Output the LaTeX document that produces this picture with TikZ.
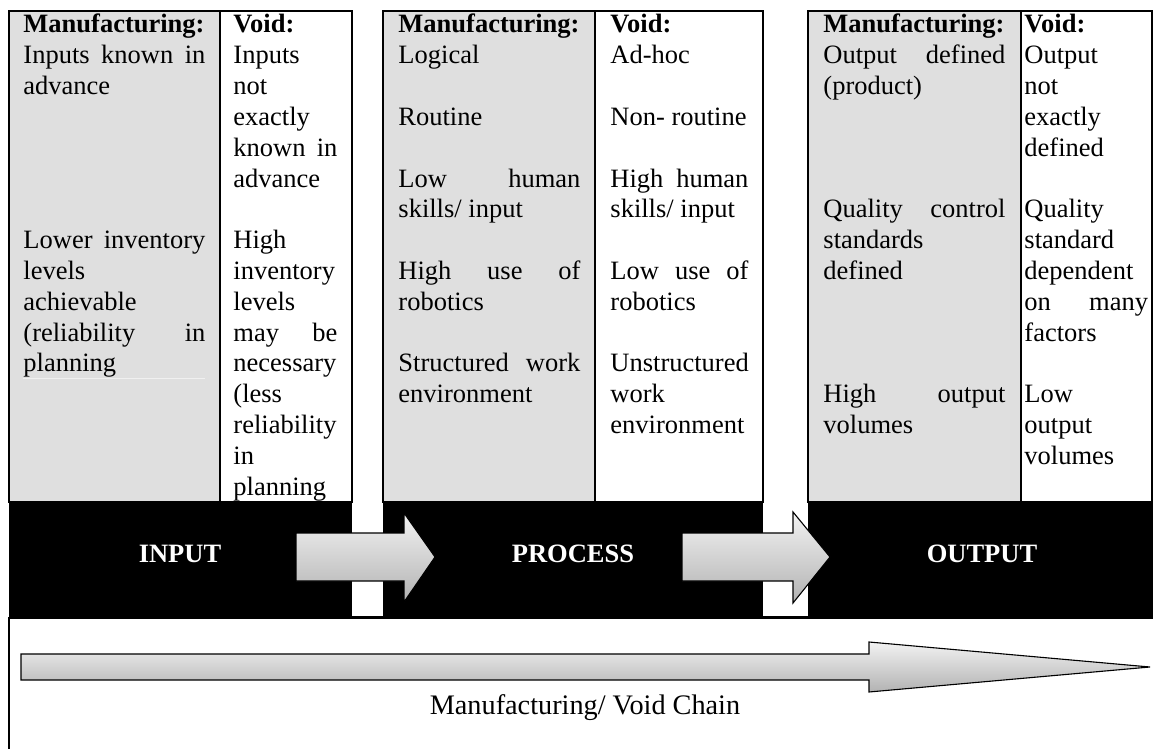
\documentclass[tikz,border=0pt]{standalone}
\usepackage{fontspec}
\setmainfont{Liberation Serif}
\usepackage{tikz}
\usetikzlibrary{positioning}

\definecolor{hellgrau}{RGB}{223,223,223}
\definecolor{strich}{RGB}{240,240,240}

\setlength{\parindent}{0pt}
\hbadness=10000
\tolerance=10000

% Leerzeilen zwischen den Absaetzen
\newcommand{\leer}[1][1]{\par\vspace{#1\baselineskip}}

\tikzset{
    spalte/.style={anchor=north west, inner sep=0pt, text width=#1, align=justify,
        font=\fontsize{12}{13.95}\selectfont},
    rahmen/.style={line width=0.9pt},
    pfeil/.style={draw=black, line width=0.5pt, top color=gray!10, bottom color=gray!60},
    titel/.style={text=white, inner sep=0pt, font=\fontsize{12}{14}\selectfont\bfseries},
}

\begin{document}
\begin{tikzpicture}[x=0.4528pt, y=-0.4528pt]
    % Bildausschnitt festlegen
    \useasboundingbox (0,0) rectangle (1153,749);
    \clip (0,0) rectangle (1153,749);

    % Schwarzes Band mit weissen Luecken
    \fill[black] (9,502) rectangle (1153,618);
    \fill[white] (352,502) rectangle (383,616);
    \fill[white] (763,502) rectangle (808,616);

    % Drei Tabellen (links grau, rechts weiss)
    \foreach \l/\m/\r in {9/220/352, 383/595/763, 808/1021/1152} {
        \fill[hellgrau] (\l,11) rectangle (\m,502);
        \draw[rahmen] (\l,11) rectangle (\r,502);
        \draw[rahmen] (\m,11) -- (\m,502);
    }
    \draw[strich, line width=0.3pt] (23,378) -- (205,378);

    % Input
    \node[spalte=82.4pt] (inM) at (23,11) {\strut\textbf{Manufacturing:}\par
        Inputs known in\linebreak advance\leer[4]Lower inventory\linebreak levels\newline
        achievable\newline (reliability in\linebreak planning};
    \node[spalte=47.1pt] (inV) at (233,11) {\strut\textbf{Void:}\par
        Inputs\newline not\newline exactly\newline known in\linebreak advance\leer
        High\newline inventory\newline levels\newline may be\linebreak necessary\newline
        (less\newline reliability\newline in\newline planning};

    % Process
    \node[spalte=82.4pt] (prM) at (398,11) {\strut\textbf{Manufacturing:}\par
        Logical\leer Routine\leer Low human\linebreak skills/ input\leer
        High use of\linebreak robotics\leer Structured work\linebreak environment};
    \node[spalte=62.5pt] (prV) at (610,11) {\strut\textbf{Void:}\par
        Ad-hoc\leer Non- routine\leer High human\linebreak skills/ input\leer
        Low use of\linebreak robotics\leer Unstructured\newline work\newline environment};

    % Output
    \node[spalte=82.4pt] (outM) at (823,11) {\strut\textbf{Manufacturing:}\par
        Output defined\linebreak (product)\leer[3]Quality control\linebreak standards\newline
        defined\leer[3]High output\linebreak volumes};
    \node[spalte=56pt] (outV) at (1024,11) {\strut\textbf{Void:}\par
        Output\newline not\newline exactly\newline defined\leer Quality\newline standard\newline
        dependent\newline on many\linebreak factors\leer Low\newline output\newline volumes};

    % Pfeile im Band
    \shadedraw[pfeil] (296,533) -- (404,533) -- (404,513) -- (435,557) -- (404,602)
        -- (404,581) -- (296,581) -- cycle;
    \shadedraw[pfeil] (682,533) -- (793,533) -- (793,512) -- (830,557) -- (793,603)
        -- (793,581) -- (682,581) -- cycle;

    \node[titel] (input) at (180,554) {INPUT};
    \node[titel] (process) at (573,554) {PROCESS};
    \node[titel] (output) at (982,554) {OUTPUT};

    % Unterer Kasten mit langem Pfeil
    \draw[line width=0.7pt] (9,618) rectangle (1170,770);
    \shadedraw[pfeil] (21,654) -- (869,654) -- (869,642) -- (1150,667) -- (869,692)
        -- (869,680) -- (21,680) -- cycle;
    \node[anchor=base, inner sep=0pt, font=\fontsize{12.8}{15}\selectfont] (kette)
        at (585,714) {Manufacturing/ Void Chain};
\end{tikzpicture}
\end{document}
